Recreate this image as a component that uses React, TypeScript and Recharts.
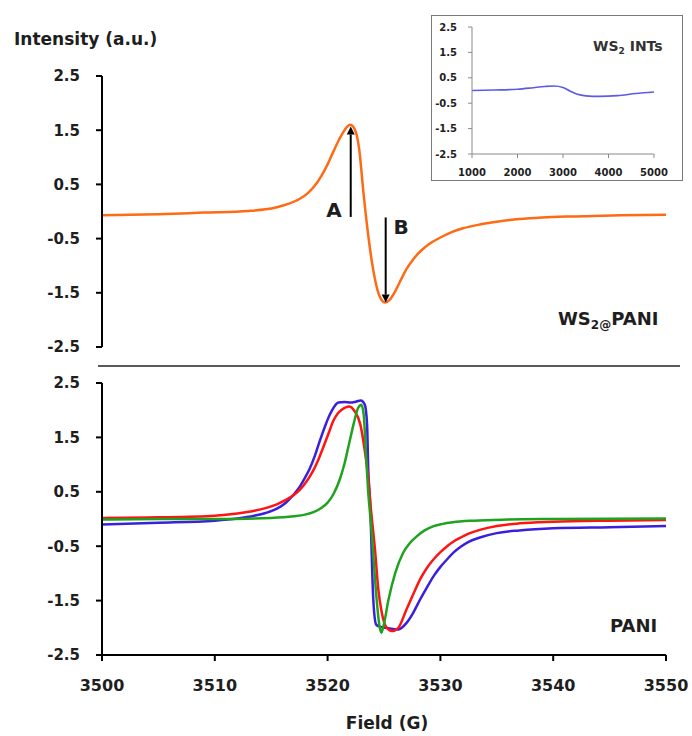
import React from 'react';
import { LineChart, Line, XAxis, YAxis, ReferenceLine } from 'recharts';

const FONT = '"DejaVu Sans", sans-serif';
const INK = '#1e1e1e';

// WS2@PANI spectrum (top panel)
const compositeField = [3500, 3505, 3509, 3513, 3514.5, 3515.5, 3516.5, 3517.5, 3518.2, 3518.8, 3519.4, 3520, 3520.5, 3521, 3521.5, 3522, 3522.4, 3522.8, 3523.2, 3523.7, 3524.2, 3524.6, 3525.1, 3525.5, 3526, 3526.5, 3527, 3527.6, 3528.3, 3529, 3530, 3531, 3532, 3533.5, 3535, 3537, 3539, 3542, 3546, 3550];
const compositeIntensity = [-0.07, -0.05, -0.02, 0.01, 0.04, 0.08, 0.14, 0.23, 0.33, 0.46, 0.64, 0.87, 1.1, 1.32, 1.5, 1.6, 1.52, 1.15, 0.3, -0.6, -1.25, -1.56, -1.68, -1.63, -1.47, -1.26, -1.06, -0.88, -0.72, -0.6, -0.48, -0.38, -0.31, -0.24, -0.19, -0.14, -0.11, -0.09, -0.07, -0.06];

// PANI spectra (bottom panel)
const paniBlueField = [3500, 3505, 3510, 3512, 3513.5, 3514.5, 3515.5, 3516.3, 3517, 3517.55, 3518, 3518.4, 3518.9, 3519.3, 3519.8, 3520.2, 3520.6, 3520.95, 3521.5, 3522, 3522.4, 3522.95, 3523.3, 3523.5, 3523.6, 3523.76, 3524.05, 3524.3, 3524.5, 3525.2, 3526.27, 3527, 3527.6, 3528.2, 3528.8, 3529.4, 3530, 3530.6, 3531.2, 3531.8, 3532.5, 3533.5, 3535, 3537, 3540, 3545, 3550];
const paniBlueIntensity = [-0.1, -0.07, -0.03, 0.01, 0.06, 0.11, 0.19, 0.3, 0.45, 0.6, 0.76, 0.92, 1.18, 1.43, 1.72, 1.92, 2.07, 2.14, 2.15, 2.14, 2.15, 2.18, 2.1, 1.74, 0.94, 0.33, -1.48, -1.94, -1.97, -2.0, -2.03, -1.91, -1.72, -1.48, -1.26, -1.05, -0.88, -0.74, -0.61, -0.51, -0.42, -0.34, -0.26, -0.21, -0.17, -0.15, -0.13];

const paniRedField = [3500, 3505, 3510, 3512, 3513.5, 3514.5, 3515.5, 3516.3, 3517, 3517.55, 3518.1, 3518.7, 3519.2, 3519.6, 3520.1, 3520.5, 3520.9, 3521.25, 3521.9, 3522.4, 3522.9, 3523.3, 3523.6, 3523.8, 3524.2, 3524.5, 3524.8, 3525.24, 3525.77, 3526.27, 3527, 3527.6, 3528.2, 3528.8, 3529.4, 3530, 3530.6, 3531.2, 3531.8, 3532.5, 3533.5, 3535, 3537, 3540, 3545, 3550];
const paniRedIntensity = [0.02, 0.03, 0.06, 0.1, 0.15, 0.2, 0.27, 0.35, 0.44, 0.54, 0.68, 0.88, 1.1, 1.31, 1.58, 1.8, 1.94, 2.01, 2.07, 1.98, 1.74, 1.25, 0.76, 0.27, -0.56, -1.3, -1.72, -2.0, -2.06, -2.0, -1.66, -1.38, -1.11, -0.9, -0.74, -0.61, -0.5, -0.41, -0.34, -0.27, -0.2, -0.13, -0.08, -0.05, -0.03, -0.02];

const paniGreenField = [3500, 3505, 3510, 3515, 3517, 3518, 3518.8, 3519.5, 3520, 3520.5, 3521.1, 3521.5, 3521.9, 3522.3, 3522.7, 3523, 3523.2, 3523.4, 3523.6, 3523.85, 3524.1, 3524.35, 3524.6, 3524.75, 3524.95, 3525.4, 3526, 3526.7, 3527.3, 3527.9, 3528.6, 3529.4, 3530.2, 3531.1, 3533, 3536, 3540, 3550];
const paniGreenIntensity = [-0.01, 0.0, 0.0, 0.02, 0.05, 0.08, 0.13, 0.21, 0.3, 0.45, 0.74, 1.02, 1.38, 1.74, 2.04, 2.1, 1.92, 1.2, 0.5, -0.1, -0.8, -1.48, -1.97, -2.09, -1.97, -1.48, -0.99, -0.62, -0.44, -0.32, -0.21, -0.13, -0.09, -0.06, -0.03, -0.01, 0.0, 0.01];

// WS2 INTs (inset)
const insetField = [1000, 1500, 2000, 2300, 2600, 2800, 3000, 3150, 3300, 3500, 3800, 4200, 4600, 5000];
const insetIntensity = [0.0, 0.02, 0.05, 0.1, 0.16, 0.18, 0.12, -0.02, -0.14, -0.21, -0.23, -0.2, -0.12, -0.06];

const intensityTicks = [-2.5, -1.5, -0.5, 0.5, 1.5, 2.5];
const fieldTicks = [3500, 3510, 3520, 3530, 3540, 3550];
const insetFieldTicks = [1000, 2000, 3000, 4000, 5000];

// arrows: [field, tail, tip]
const arrowA = [3522.05, -0.1, 1.57];
const arrowB = [3525.15, -0.11, -1.68];

const toPoints = (xs: number[], ys: number[]) => xs.map((f, i) => ({ field: f, value: ys[i] }));
const fmt = (v: number) => v.toFixed(1);

const Arrow = (props: any) => {
  const { x1, y1, x2, y2 } = props;
  const dir = y2 < y1 ? -1 : 1;
  const head = 8;
  return (
    <g>
      <line x1={x1} y1={y1} x2={x2} y2={y2 - dir * head} stroke="#000" strokeWidth={2} />
      <polygon points={`${x2},${y2} ${x2 - 4},${y2 - dir * head} ${x2 + 4},${y2 - dir * head}`} fill="#000" />
    </g>
  );
};

const mainTick = { fill: INK, fontSize: 15, fontWeight: 700, fontFamily: FONT };
const axisProps = { stroke: '#000', strokeWidth: 2 };

export default function App() {
  return (
    <div style={{ position: 'absolute', left: 0, top: 0, width: 692, height: 736, background: '#fff', fontFamily: FONT }}>
      <div style={{ position: 'absolute', left: 0, top: 0 }}>
        <LineChart width={692} height={366} margin={{ top: 76, right: 26, bottom: 19, left: 42 }}>
          <XAxis type="number" dataKey="field" domain={[3500, 3550]} hide allowDataOverflow />
          <YAxis
            type="number"
            domain={[-2.5, 2.5]}
            ticks={intensityTicks}
            interval={0}
            width={60}
            tickFormatter={fmt}
            tick={mainTick}
            tickSize={6}
            tickMargin={16}
            axisLine={axisProps}
            tickLine={axisProps}
          />
          <Line data={toPoints(compositeField, compositeIntensity)} dataKey="value" type="monotone" stroke="#ff6a14" strokeWidth={2.5} dot={false} isAnimationActive={false} />
          <ReferenceLine segment={[{ x: arrowA[0], y: arrowA[1] }, { x: arrowA[0], y: arrowA[2] }]} shape={Arrow} />
          <ReferenceLine segment={[{ x: arrowB[0], y: arrowB[1] }, { x: arrowB[0], y: arrowB[2] }]} shape={Arrow} />
        </LineChart>
      </div>

      <div style={{ position: 'absolute', left: 0, top: 366 }}>
        <LineChart width={692} height={370} margin={{ top: 17, right: 26, bottom: 6, left: 42 }}>
          <XAxis
            type="number"
            dataKey="field"
            domain={[3500, 3550]}
            ticks={fieldTicks}
            interval={0}
            height={75}
            tick={{ ...mainTick, fontSize: 16 }}
            tickSize={6}
            tickMargin={19}
            axisLine={axisProps}
            tickLine={axisProps}
            allowDataOverflow
          />
          <YAxis
            type="number"
            domain={[-2.5, 2.5]}
            ticks={intensityTicks}
            interval={0}
            width={60}
            tickFormatter={fmt}
            tick={mainTick}
            tickSize={6}
            tickMargin={16}
            axisLine={axisProps}
            tickLine={axisProps}
          />
          <Line data={toPoints(paniBlueField, paniBlueIntensity)} dataKey="value" type="monotone" stroke="#3a1fdc" strokeWidth={2.5} dot={false} isAnimationActive={false} />
          <Line data={toPoints(paniRedField, paniRedIntensity)} dataKey="value" type="monotone" stroke="#ff1414" strokeWidth={2.5} dot={false} isAnimationActive={false} />
          <Line data={toPoints(paniGreenField, paniGreenIntensity)} dataKey="value" type="monotone" stroke="#1fa31f" strokeWidth={2.5} dot={false} isAnimationActive={false} />
        </LineChart>
      </div>

      <div style={{ position: 'absolute', left: 431, top: 15, width: 252, height: 166, boxSizing: 'border-box', border: '1px solid #7a7a7a', background: '#fff' }}>
        <LineChart width={250} height={164} margin={{ top: 11, right: 28, bottom: 4, left: 2 }}>
          <XAxis
            type="number"
            dataKey="field"
            domain={[1000, 5000]}
            ticks={insetFieldTicks}
            interval={0}
            height={22}
            tick={{ fill: INK, fontSize: 10, fontWeight: 700, fontFamily: FONT }}
            tickSize={4}
            tickMargin={11}
            axisLine={{ stroke: '#8a8a8a' }}
            tickLine={{ stroke: '#8a8a8a' }}
          />
          <YAxis
            type="number"
            domain={[-2.5, 2.5]}
            ticks={intensityTicks}
            interval={0}
            width={38}
            tickFormatter={fmt}
            tick={{ fill: INK, fontSize: 10, fontWeight: 700, fontFamily: FONT }}
            tickSize={4}
            tickMargin={11}
            axisLine={{ stroke: '#8a8a8a' }}
            tickLine={{ stroke: '#8a8a8a' }}
          />
          <Line data={toPoints(insetField, insetIntensity)} dataKey="value" type="monotone" stroke="#5b5be6" strokeWidth={1.6} dot={false} isAnimationActive={false} />
        </LineChart>
      </div>

      <svg width={692} height={736} style={{ position: 'absolute', left: 0, top: 0, pointerEvents: 'none' }} fontFamily={FONT} fontWeight={700} fill={INK}>
        <line x1={98} y1={366} x2={680} y2={366} stroke="#222" strokeWidth={1.5} />
        <text x={14} y={45} fontSize={17}>Intensity (a.u.)</text>
        <text x={387} y={729} fontSize={17} textAnchor="middle">Field (G)</text>
        <text x={334} y={217} fontSize={20} textAnchor="middle">A</text>
        <text x={401} y={234} fontSize={20} textAnchor="middle">B</text>
        <text x={558} y={325} fontSize={18}>
          WS<tspan fontSize={12} dy={4}>2@</tspan><tspan dy={-4}>PANI</tspan>
        </text>
        <text x={610} y={632} fontSize={18}>PANI</text>
        <text x={593} y={51} fontSize={14} fill="#333">
          WS<tspan fontSize={9} dy={3}>2</tspan><tspan dy={-3}> INTs</tspan>
        </text>
      </svg>
    </div>
  );
}
